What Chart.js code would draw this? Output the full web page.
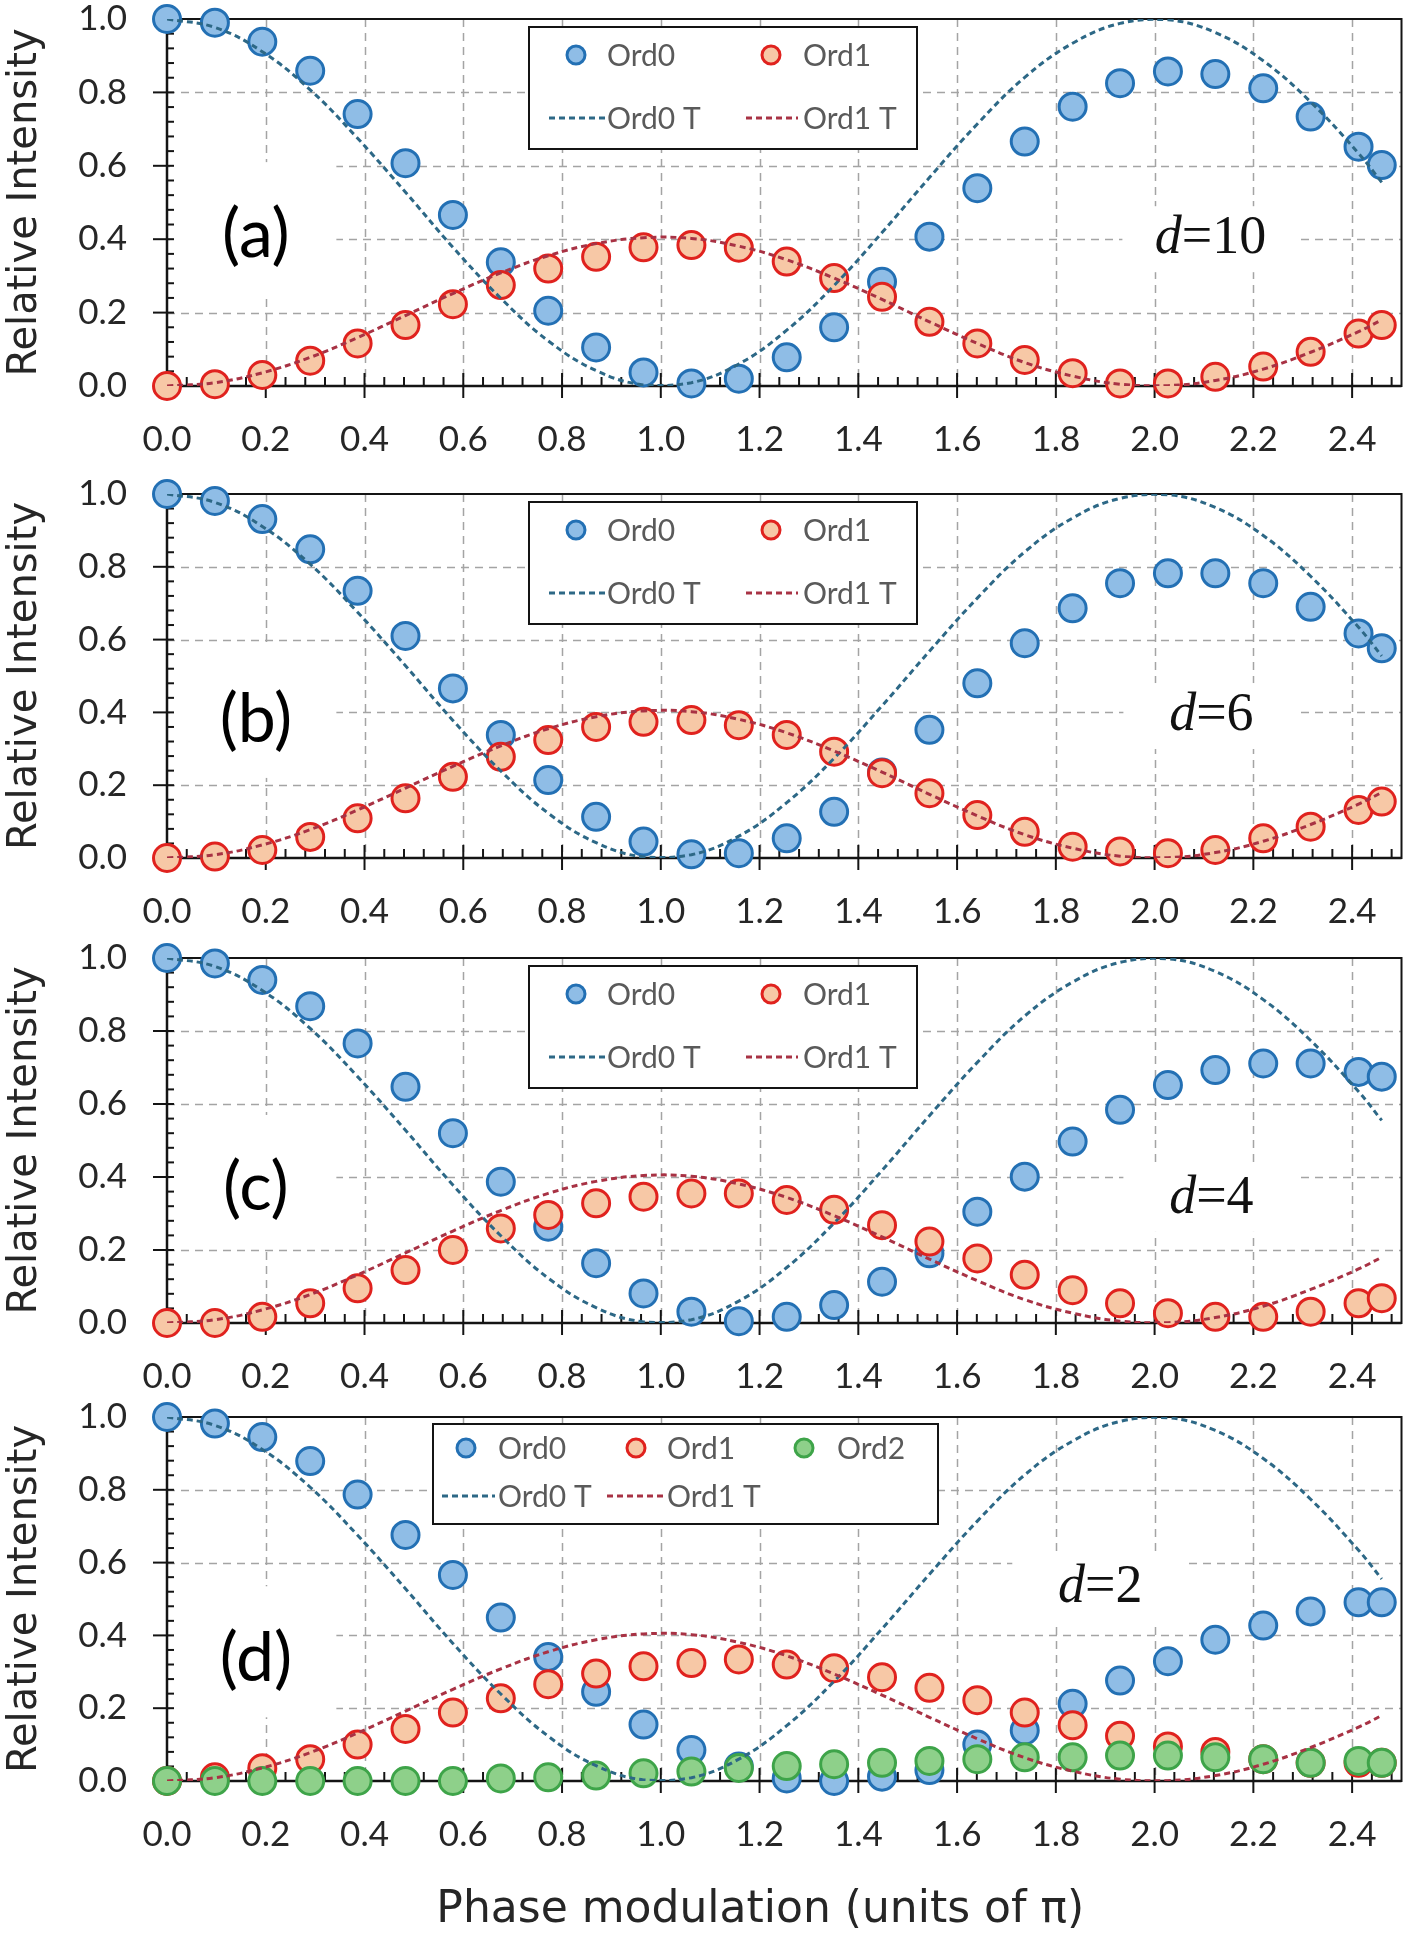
<!DOCTYPE html>
<html>
<head>
<meta charset="utf-8">
<script src="https://cdn.jsdelivr.net/npm/chart.js@4.4.1/dist/chart.umd.min.js"></script>
<style>
  html, body { margin: 0; padding: 0; background: #fff; }
  body { width: 1418px; height: 1938px; position: relative; overflow: hidden; }
  canvas { position: absolute; left: 0; }
</style>
</head>
<body>
<canvas id="chartA" width="1418" height="475" style="top:-5px"></canvas>
<canvas id="chartB" width="1418" height="470" style="top:470px"></canvas>
<canvas id="chartC" width="1418" height="466" style="top:934px"></canvas>
<canvas id="chartD" width="1418" height="545" style="top:1393px"></canvas>
<script>
// phase values (units of pi) shared by every panel
const phaseX = [0, 0.097, 0.193, 0.29, 0.386, 0.483, 0.579, 0.676, 0.772, 0.869, 0.965, 1.062, 1.158,
  1.255, 1.351, 1.448, 1.544, 1.641, 1.737, 1.834, 1.93, 2.027, 2.123, 2.22, 2.316, 2.413, 2.46];

// theory curves
const ord0Theory = [1, 0.977, 0.911, 0.807, 0.675, 0.528, 0.378, 0.239, 0.123, 0.042, 0.003, 0.009, 0.06,
  0.152, 0.274, 0.418, 0.568, 0.714, 0.841, 0.934, 0.988, 0.998, 0.963, 0.886, 0.774, 0.634, 0.555];
const ord1Theory = [0, 0.009, 0.036, 0.078, 0.132, 0.192, 0.252, 0.308, 0.355, 0.388, 0.404, 0.402, 0.381,
  0.344, 0.294, 0.236, 0.175, 0.116, 0.064, 0.027, 0.005, 0.001, 0.015, 0.046, 0.092, 0.148, 0.18];

// (a) d=10
const ord0D10 = [1.0, 0.99, 0.938, 0.859, 0.741, 0.607, 0.466, 0.337, 0.205, 0.105, 0.037, 0.007, 0.02,
  0.078, 0.16, 0.284, 0.407, 0.539, 0.666, 0.761, 0.825, 0.857, 0.85, 0.811, 0.734, 0.652, 0.602];
const ord1D10 = [0.0, 0.005, 0.03, 0.069, 0.116, 0.166, 0.223, 0.275, 0.32, 0.352, 0.378, 0.384, 0.377,
  0.339, 0.294, 0.243, 0.175, 0.116, 0.071, 0.035, 0.007, 0.007, 0.025, 0.053, 0.093, 0.143, 0.166];
// (b) d=6
const ord0D6 = [1.0, 0.981, 0.931, 0.848, 0.734, 0.61, 0.466, 0.338, 0.214, 0.113, 0.045, 0.01, 0.013,
  0.054, 0.127, 0.235, 0.352, 0.48, 0.59, 0.686, 0.755, 0.782, 0.782, 0.755, 0.69, 0.617, 0.576];
const ord1D6 = [0.0, 0.004, 0.022, 0.058, 0.109, 0.164, 0.223, 0.278, 0.324, 0.36, 0.374, 0.379, 0.365,
  0.338, 0.292, 0.233, 0.178, 0.118, 0.072, 0.031, 0.018, 0.013, 0.022, 0.054, 0.086, 0.132, 0.155];
// (c) d=4
const ord0D4 = [1.0, 0.985, 0.94, 0.868, 0.766, 0.647, 0.52, 0.387, 0.264, 0.164, 0.081, 0.031, 0.005,
  0.017, 0.049, 0.113, 0.191, 0.305, 0.401, 0.497, 0.584, 0.652, 0.693, 0.711, 0.711, 0.688, 0.675];
const ord1D4 = [0.0, 0.0, 0.017, 0.054, 0.095, 0.145, 0.2, 0.259, 0.296, 0.328, 0.346, 0.355, 0.355,
  0.337, 0.31, 0.268, 0.223, 0.177, 0.132, 0.09, 0.054, 0.027, 0.017, 0.017, 0.031, 0.054, 0.068];
// (d) d=2
const ord0D2 = [1.0, 0.982, 0.945, 0.879, 0.787, 0.676, 0.566, 0.449, 0.341, 0.245, 0.155, 0.085, 0.04,
  0.007, 0.0, 0.012, 0.03, 0.1, 0.139, 0.212, 0.276, 0.329, 0.388, 0.427, 0.466, 0.491, 0.491];
const ord1D2 = [0.0, 0.01, 0.035, 0.06, 0.1, 0.143, 0.188, 0.227, 0.266, 0.295, 0.315, 0.324, 0.334,
  0.32, 0.31, 0.285, 0.256, 0.222, 0.188, 0.153, 0.124, 0.095, 0.08, 0.06, 0.05, 0.05, 0.05];
const ord2D2 = [0.0, 0.0, 0.0, 0.0, 0.0, 0.0, 0.0, 0.007, 0.01, 0.015, 0.021, 0.026, 0.036,
  0.041, 0.046, 0.05, 0.055, 0.06, 0.065, 0.065, 0.07, 0.07, 0.065, 0.06, 0.05, 0.055, 0.05];

const xTicks = [0, 0.2, 0.4, 0.6, 0.8, 1.0, 1.2, 1.4, 1.6, 1.8, 2.0, 2.2, 2.4];
const yTicks = [0, 0.2, 0.4, 0.6, 0.8, 1.0];
const panelTags = ['(a)', '(b)', '(c)', '(d)'];
const dValues = ['10', '6', '4', '2'];

const colors = {
  ord0Fill: '#8fbde6', ord0Edge: '#2370b4',
  ord1Fill: '#f7c8a6', ord1Edge: '#e0221e',
  ord2Fill: '#8ed08a', ord2Edge: '#3ea449',
  ord0Line: '#2d6886', ord1Line: '#a83244',
  grid: '#a4a4a4', axis: '#141414', text: '#262626', legendText: '#5a5a5a'
};

const legendWide = {
  box: { x: 362, y: 8, w: 388, h: 122 },
  items: [
    { label: 'Ord0', mx: 47, my: 28, tx: 78 },
    { label: 'Ord1', mx: 242, my: 28, tx: 274 },
    { label: 'Ord0 T', lx0: 20, lx1: 76, my: 91, tx: 78 },
    { label: 'Ord1 T', lx0: 217, lx1: 269, my: 91, tx: 274 }
  ]
};
const legendThree = {
  box: { x: 266, y: 7, w: 505, h: 100 },
  items: [
    { label: 'Ord0', mx: 33, my: 24, tx: 65 },
    { label: 'Ord1', mx: 203, my: 24, tx: 234 },
    { label: 'Ord2', mx: 371, my: 24, tx: 404 },
    { label: 'Ord0 T', lx0: 9, lx1: 62, my: 72, tx: 65 },
    { label: 'Ord1 T', lx0: 174, lx1: 232, my: 72, tx: 234 }
  ]
};

function pts(xs, ys) {
  return xs.map((x, i) => ({ x: x, y: ys[i] }));
}

function line(ctx, x0, y0, x1, y1) {
  ctx.beginPath();
  ctx.moveTo(x0, y0);
  ctx.lineTo(x1, y1);
  ctx.stroke();
}

const decor = {
  id: 'decor',
  beforeDatasetsDraw(chart, args, o) {
    const { ctx, chartArea: ca } = chart;
    const x = chart.scales.x, y = chart.scales.y;
    ctx.save();

    // dashed grid
    ctx.strokeStyle = colors.grid;
    ctx.lineWidth = 1.5;
    ctx.setLineDash([8, 6]);
    xTicks.forEach(v => {
      if (v === 0) return;
      const px = Math.round(x.getPixelForValue(v)) + 0.5;
      line(ctx, px, ca.top, px, ca.bottom);
    });
    yTicks.forEach(v => {
      if (v === 0 || v === 1) return;
      const py = Math.round(y.getPixelForValue(v)) + 0.5;
      line(ctx, ca.left, py, ca.right, py);
    });
    ctx.setLineDash([]);

    // white boxes behind the labels
    ctx.fillStyle = '#fff';
    const tx0 = x.getPixelForValue(0) + 3, tx1 = x.getPixelForValue(0.343);
    const ty0 = y.getPixelForValue(o.tagPos[1] + 0.2), ty1 = y.getPixelForValue(o.tagPos[1] - 0.16);
    ctx.fillRect(tx0, ty0, tx1 - tx0, ty1 - ty0);
    const dcx = x.getPixelForValue(o.dPos[0]), dcy = y.getPixelForValue(o.dPos[1]);
    ctx.fillRect(dcx - 88, dcy - 33, 176, 66);

    // frame
    ctx.strokeStyle = colors.axis;
    ctx.lineWidth = 2;
    ctx.strokeRect(ca.left, ca.top, ca.width, ca.height);
    ctx.lineWidth = 2.5;
    line(ctx, ca.left, ca.top, ca.left, ca.bottom + 1);
    line(ctx, ca.left - 1, ca.bottom, ca.right, ca.bottom);

    // tick marks, major crossing the axis, minor inside
    ctx.lineWidth = 2;
    for (let i = 0; i <= 62; i++) {
      const px = x.getPixelForValue(i * 0.04);
      if (i % 5 === 0) line(ctx, px, ca.bottom - 13, px, ca.bottom + 12);
      else line(ctx, px, ca.bottom - 9, px, ca.bottom);
    }
    for (let i = 0; i <= 25; i++) {
      const py = y.getPixelForValue(i * 0.04);
      if (i % 5 === 0) line(ctx, ca.left - 14, py, ca.left + 7, py);
      else line(ctx, ca.left, py, ca.left + 7, py);
    }

    // panel tag
    ctx.fillStyle = '#000';
    ctx.textAlign = 'center';
    ctx.textBaseline = 'middle';
    ctx.font = '68px Lato';
    ctx.fillText(o.tag, x.getPixelForValue(o.tagPos[0]), y.getPixelForValue(o.tagPos[1]));

    // d = value, italic d
    const fi = 'italic 54px "Liberation Serif"', fr = '54px "Liberation Serif"';
    ctx.font = fi;
    const wd = ctx.measureText('d').width;
    ctx.font = fr;
    const rest = '=' + o.d;
    const wr = ctx.measureText(rest).width;
    const left = dcx - (wd + wr) / 2;
    ctx.textAlign = 'left';
    ctx.textBaseline = 'middle';
    ctx.fillStyle = '#111';
    ctx.font = fi;
    ctx.fillText('d', left, dcy);
    ctx.font = fr;
    ctx.fillText(rest, left + wd, dcy);

    // x axis title on the last panel
    if (o.xTitle) {
      ctx.textAlign = 'center';
      ctx.fillStyle = colors.text;
      ctx.font = '44px "DejaVu Sans"';
      ctx.fillText(o.xTitle, (ca.left + ca.right) / 2 - 24, ca.bottom + 130);
    }
    ctx.restore();
  },
  afterDatasetsDraw(chart, args, o) {
    const { ctx, chartArea: ca } = chart;
    const lg = o.legend;
    const bx = ca.left + lg.box.x, by = ca.top + lg.box.y;
    ctx.save();
    ctx.fillStyle = '#fff';
    ctx.fillRect(bx, by, lg.box.w, lg.box.h);
    ctx.strokeStyle = colors.axis;
    ctx.lineWidth = 2;
    ctx.strokeRect(bx, by, lg.box.w, lg.box.h);
    ctx.font = '30px Lato';
    ctx.textBaseline = 'middle';
    ctx.textAlign = 'left';
    lg.items.forEach(it => {
      const ds = chart.data.datasets.find(d => d.label === it.label);
      if (!ds) return;
      const cy = by + it.my;
      if (it.lx0 !== undefined) {
        ctx.strokeStyle = ds.borderColor;
        ctx.lineWidth = ds.borderWidth;
        ctx.setLineDash(ds.borderDash);
        line(ctx, bx + it.lx0, cy, bx + it.lx1, cy);
        ctx.setLineDash([]);
      } else {
        ctx.beginPath();
        ctx.arc(bx + it.mx, cy, 9, 0, Math.PI * 2);
        ctx.fillStyle = ds.pointBackgroundColor;
        ctx.fill();
        ctx.lineWidth = 3;
        ctx.strokeStyle = ds.pointBorderColor;
        ctx.stroke();
      }
      ctx.fillStyle = colors.legendText;
      ctx.fillText(ds.label, bx + it.tx, cy + 1);
    });
    ctx.restore();
  }
};

function pointSet(label, values, fill, edge, order) {
  return {
    label: label,
    data: pts(phaseX, values),
    showLine: false,
    pointRadius: 13.5,
    pointHoverRadius: 13.5,
    pointBorderWidth: 3,
    pointBackgroundColor: fill,
    pointBorderColor: edge,
    clip: false,
    order: order
  };
}

function theorySet(label, values, color, order) {
  return {
    label: label,
    data: pts(phaseX, values),
    showLine: true,
    borderColor: color,
    borderWidth: 3,
    borderDash: [6, 4],
    pointRadius: 0,
    tension: 0.4,
    fill: false,
    order: order
  };
}

function makeChart(p) {
  const datasets = [
    pointSet('Ord0', p.ord0, colors.ord0Fill, colors.ord0Edge, 4),
    pointSet('Ord1', p.ord1, colors.ord1Fill, colors.ord1Edge, 3)
  ];
  if (p.ord2) datasets.push(pointSet('Ord2', p.ord2, colors.ord2Fill, colors.ord2Edge, 2));
  datasets.push(theorySet('Ord0 T', ord0Theory, colors.ord0Line, 1));
  datasets.push(theorySet('Ord1 T', ord1Theory, colors.ord1Line, 0));

  return new Chart(document.getElementById(p.id), {
    type: 'scatter',
    data: { datasets: datasets },
    plugins: [decor],
    options: {
      responsive: false,
      animation: false,
      events: [],
      layout: { padding: { top: 24, bottom: p.padBottom, left: 0, right: 11 } },
      plugins: {
        legend: { display: false },
        tooltip: { enabled: false },
        decor: {
          tag: p.tag, tagPos: p.tagPos, d: p.d, dPos: p.dPos,
          legend: p.legend, xTitle: p.xTitle
        }
      },
      scales: {
        x: {
          type: 'linear', min: 0, max: 2.5,
          grid: { display: false, drawTicks: false },
          border: { display: false },
          afterBuildTicks: s => { s.ticks = xTicks.map(v => ({ value: v })); },
          afterFit: s => { s.height = 70; s.paddingLeft = 0; s.paddingRight = 0; },
          ticks: {
            padding: 33,
            color: colors.text,
            font: { family: 'Lato', size: 35 },
            callback: v => Number(v).toFixed(1)
          }
        },
        y: {
          type: 'linear', min: 0, max: 1,
          grid: { display: false, drawTicks: false },
          border: { display: false },
          afterBuildTicks: s => { s.ticks = yTicks.map(v => ({ value: v })); },
          // keep the tick padding from pushing the plot area down
          afterFit: s => { s.width = 167; s.paddingTop = 0; s.paddingBottom = 0; },
          ticks: {
            padding: 40,
            color: colors.text,
            font: { family: 'Lato', size: 35 },
            callback: v => Number(v).toFixed(1)
          },
          title: {
            display: true,
            text: 'Relative Intensity',
            color: colors.text,
            font: { family: 'DejaVu Sans', size: 40 },
            padding: { top: 2, bottom: 0 }
          }
        }
      }
    }
  });
}

makeChart({ id: 'chartA', ord0: ord0D10, ord1: ord1D10, tag: panelTags[0], tagPos: [0.18, 0.41],
  d: dValues[0], dPos: [2.113, 0.40], legend: legendWide, padBottom: 14 });
makeChart({ id: 'chartB', ord0: ord0D6, ord1: ord1D6, tag: panelTags[1], tagPos: [0.18, 0.38],
  d: dValues[1], dPos: [2.115, 0.39], legend: legendWide, padBottom: 12 });
makeChart({ id: 'chartC', ord0: ord0D4, ord1: ord1D4, tag: panelTags[2], tagPos: [0.18, 0.37],
  d: dValues[2], dPos: [2.115, 0.34], legend: legendWide, padBottom: 7 });
makeChart({ id: 'chartD', ord0: ord0D2, ord1: ord1D2, ord2: ord2D2, tag: panelTags[3], tagPos: [0.18, 0.335],
  d: dValues[3], dPos: [1.89, 0.53], legend: legendThree, padBottom: 87,
  xTitle: 'Phase modulation (units of π)' });
</script>
</body>
</html>
